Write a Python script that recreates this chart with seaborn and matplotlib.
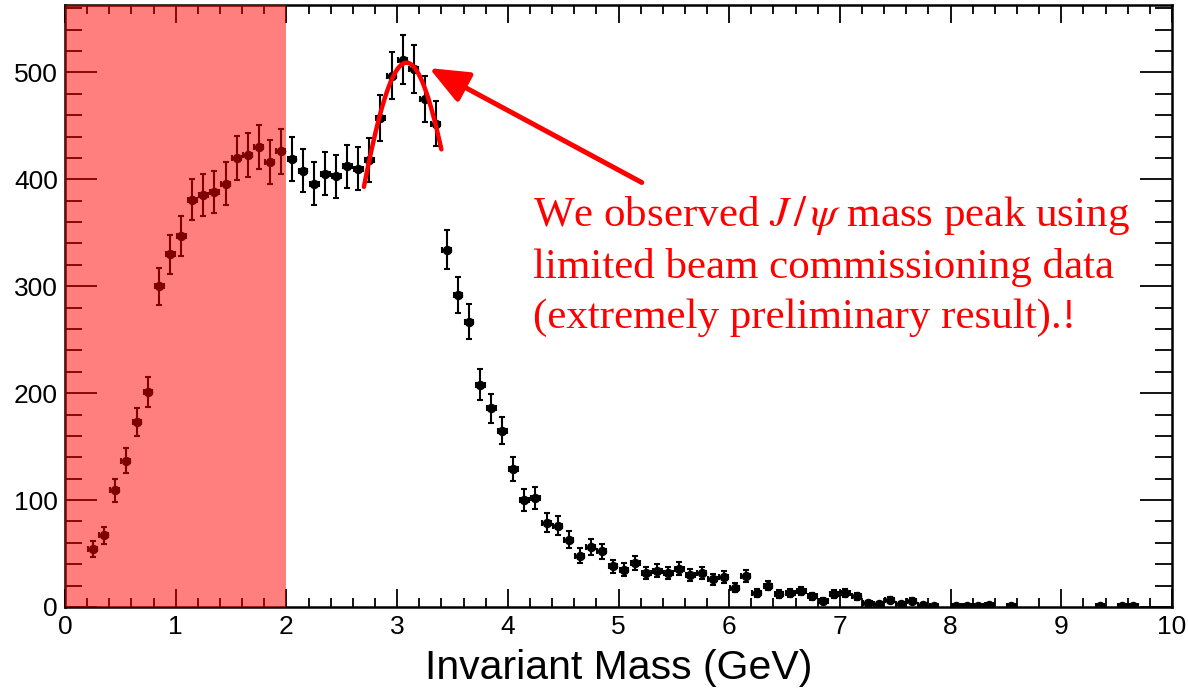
import numpy as np
import pandas as pd
import matplotlib
matplotlib.use("Agg")
import matplotlib.pyplot as plt
import seaborn as sns
from matplotlib.ticker import MultipleLocator

# ---- data ----
mass = [0.25, 0.35, 0.45, 0.55, 0.65, 0.75, 0.85, 0.95, 1.05, 1.15,
        1.25, 1.35, 1.45, 1.55, 1.65, 1.75, 1.85, 1.95, 2.05, 2.15,
        2.25, 2.35, 2.45, 2.55, 2.65, 2.75, 2.85, 2.95, 3.05, 3.15,
        3.25, 3.35, 3.45, 3.55, 3.65, 3.75, 3.85, 3.95, 4.05, 4.15,
        4.25, 4.35, 4.45, 4.55, 4.65, 4.75, 4.85, 4.95, 5.05, 5.15,
        5.25, 5.35, 5.45, 5.55, 5.65, 5.75, 5.85, 5.95, 6.05, 6.15,
        6.25, 6.35, 6.45, 6.55, 6.65, 6.75, 6.85, 6.95, 7.05, 7.15,
        7.25, 7.35, 7.45, 7.55, 7.65, 7.75, 7.85, 8.05, 8.15, 8.25,
        8.35, 8.55, 9.35, 9.55, 9.65]
counts = [54, 67, 109, 137, 173, 201, 300, 330, 347, 381,
          385, 388, 396, 420, 423, 430, 416, 426, 419, 408,
          396, 405, 403, 412, 410, 418, 457, 497, 512, 503,
          475, 452, 334, 292, 267, 208, 186, 165, 129, 100,
          102, 79, 76, 63, 48, 56, 52, 38, 35, 41,
          32, 34, 32, 36, 30, 32, 26, 28, 18, 29,
          13, 20, 12, 13, 15, 10, 6, 12, 13, 10,
          4, 3, 7, 3, 6, 2, 1, 1, 1, 1,
          2, 1, 1, 1, 1]
bin_half_width = 0.04

# fit (Gaussian) parameters for the J/psi peak
fit_amp = 509.0
fit_mean = 3.085
fit_sigma = 0.535
fit_range = (2.70, 3.40)

shade_range = (0.0, 2.0)
annotation = "We observed $J\\,/\\,\\psi$ mass peak using\nlimited beam commissioning data\n(extremely preliminary result).!"

# ---- plot ----
sns.set_style("ticks")
plt.rcParams["font.family"] = ["Liberation Sans", "DejaVu Sans"]
plt.rcParams["mathtext.fontset"] = "stix"

df = pd.DataFrame({"mass": mass, "counts": counts})
df["err"] = np.sqrt(df["counts"])

fig = plt.figure(figsize=(11.88, 6.92), dpi=100)
ax = fig.add_axes([65 / 1188, 1 - 607 / 692, (1172 - 65) / 1188, (607 - 5) / 692])

ax.errorbar(df["mass"], df["counts"], yerr=df["err"], xerr=bin_half_width,
            fmt="none", ecolor="black", elinewidth=1.5, capsize=2.2, capthick=1.5, zorder=3)
sns.scatterplot(data=df, x="mass", y="counts", ax=ax, color="black", s=46,
                edgecolor="black", linewidth=0, zorder=4, legend=False)

xf = np.linspace(fit_range[0], fit_range[1], 200)
yf = fit_amp * np.exp(-(xf - fit_mean) ** 2 / (2 * fit_sigma ** 2))
sns.lineplot(x=xf, y=yf, ax=ax, color="red", linewidth=3.2, zorder=5)

ax.axvspan(shade_range[0], shade_range[1], color="red", alpha=0.5, lw=0, zorder=10)

ax.annotate("", xy=(3.29, 504), xytext=(5.21, 397),
            arrowprops=dict(arrowstyle="-|>,head_length=1.2,head_width=0.5",
                            color="red", lw=3.6, mutation_scale=20, shrinkA=0, shrinkB=0),
            zorder=6)
ax.text(4.23, 386, annotation, color="red", fontsize=31,
        family=["Liberation Serif", "DejaVu Serif"], va="top", ha="left",
        linespacing=1.37, zorder=6)

ax.set_xlim(0, 10)
ax.set_ylim(0, 563)
ax.xaxis.set_major_locator(MultipleLocator(1))
ax.xaxis.set_minor_locator(MultipleLocator(0.2))
ax.yaxis.set_major_locator(MultipleLocator(100))
ax.yaxis.set_minor_locator(MultipleLocator(20))

ax.tick_params(axis="both", which="both", direction="in", top=True, right=True,
               colors="black", labelsize=19, width=1.3)
ax.tick_params(axis="y", which="major", length=23, pad=5)
ax.tick_params(axis="y", which="minor", length=12)
ax.tick_params(axis="x", which="major", length=13, pad=6)
ax.tick_params(axis="x", which="minor", length=6.5)
for sp in ax.spines.values():
    sp.set_visible(True)
    sp.set_linewidth(1.8)
    sp.set_color("black")

ax.set_xlabel("Invariant Mass (GeV)", fontsize=29.5, labelpad=7, color="black")
ax.set_ylabel("")

fig.savefig("out.png", dpi=100)
